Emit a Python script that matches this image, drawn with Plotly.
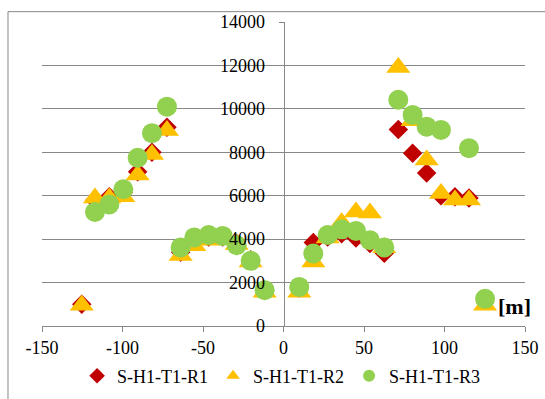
import plotly.graph_objects as go

# x positions [m]
x_r1 = [-125.3, -117.1, -108.2, -99.5, -90.6, -81.7, -72.4,
        -63.9, -55.4, -46.5, -37.8, -29.1, -20.4, -11.7,
        9.8, 18.5, 27.4, 36.1, 45.0, 53.7, 62.6,
        71.3, 80.2, 88.9, 97.8, 106.5, 115.2]
y_r1 = [1000, 5800, 5950, 6150, 7100, 8000, 9150,
        3400, 3900, 4100, 4100, 3800, 3050, 1650,
        1750, 3850, 4100, 4250, 4050, 3800, 3350,
        9050, 7950, 7050, 6000, 5950, 5900]

x_r2 = [-125.3, -117.1, -108.2, -99.5, -90.6, -81.7, -72.4,
        -63.9, -55.4, -46.5, -37.8, -29.1, -20.4, -11.7,
        9.8, 18.5, 27.4, 36.1, 45.0, 53.7, 62.6,
        71.3, 80.2, 88.9, 97.8, 106.5, 115.2, 125.2]
y_r2 = [950, 5900, 5900, 5950, 6950, 7900, 9000,
        3250, 3700, 3950, 4000, 3750, 2950, 1550,
        1550, 2950, 4050, 4750, 5250, 5200, 3600,
        11900, 9450, 7650, 6100, 5800, 5800, 950]

x_r3 = [-117.1, -108.2, -99.5, -90.6, -81.7, -72.4,
        -63.9, -55.4, -46.5, -37.8, -29.1, -20.4, -11.7,
        9.8, 18.5, 27.4, 36.1, 45.0, 53.7, 62.6,
        71.3, 80.2, 88.9, 97.8, 115.2, 125.2]
y_r3 = [5250, 5600, 6300, 7750, 8880, 10100,
        3620, 4080, 4190, 4150, 3720, 3000, 1650,
        1800, 3340, 4190, 4450, 4380, 3950, 3620,
        10420, 9720, 9180, 9030, 8190, 1250]

names = ["S-H1-T1-R1", "S-H1-T1-R2", "S-H1-T1-R3"]
y_ticks = [0, 2000, 4000, 6000, 8000, 10000, 12000, 14000]
x_ticks = [-150, -100, -50, 0, 50, 100, 150]

FONT = "Liberation Serif"
GRID = "#878787"

fig = go.Figure()
fig.add_trace(go.Scatter(x=x_r1, y=y_r1, mode="markers", name=names[0],
                         marker=dict(symbol="diamond", size=15, color="#C00000")))
fig.add_trace(go.Scatter(x=x_r2, y=y_r2, mode="markers", name=names[1],
                         marker=dict(symbol="triangle-up", size=21, color="#FFC000")))
fig.add_trace(go.Scatter(x=x_r3, y=y_r3, mode="markers", name=names[2],
                         marker=dict(symbol="circle", size=20, color="#92D050")))

fig.update_layout(
    width=545, height=399,
    margin=dict(l=42, r=20, t=22, b=73, autoexpand=False),
    paper_bgcolor="white", plot_bgcolor="white",
    font=dict(family=FONT, size=18, color="black"),
    showlegend=True,
    legend=dict(orientation="h", x=0.495, xanchor="center",
                yref="container", y=1 - 376 / 399, yanchor="middle",
                font=dict(family=FONT, size=18), itemsizing="constant",
                itemwidth=30, traceorder="normal", bgcolor="rgba(0,0,0,0)"),
    xaxis=dict(range=[-150, 150], tickvals=x_ticks, ticktext=[str(v) for v in x_ticks],
               showgrid=False, zeroline=False, showline=True, linecolor=GRID, linewidth=1,
               ticks="outside", ticklen=5, tickcolor=GRID, automargin=False,
               tickfont=dict(family=FONT, size=18)),
    yaxis=dict(range=[0, 14000], tickvals=y_ticks, ticktext=[str(v) for v in y_ticks],
               anchor="free", position=0.5, showgrid=True, gridcolor=GRID, gridwidth=1,
               zeroline=False, showline=True, linecolor=GRID, linewidth=1, automargin=False,
               ticks="outside", ticklen=5, tickcolor=GRID, ticklabelstandoff=10,
               tickfont=dict(family=FONT, size=18)),
)

# outer chart border
fig.add_shape(type="rect", xref="paper", yref="paper",
              x0=-0.0704, x1=1.06, y0=-0.27, y1=1.034,
              line=dict(color=GRID, width=1), fillcolor="rgba(0,0,0,0)", layer="below")

fig.add_annotation(text="<b>[m]</b>", xref="paper", yref="paper", x=0.978, y=0.065,
                   xanchor="center", yanchor="middle",
                   showarrow=False, font=dict(family=FONT, size=22, color="black"))

fig.write_html("out.html")
